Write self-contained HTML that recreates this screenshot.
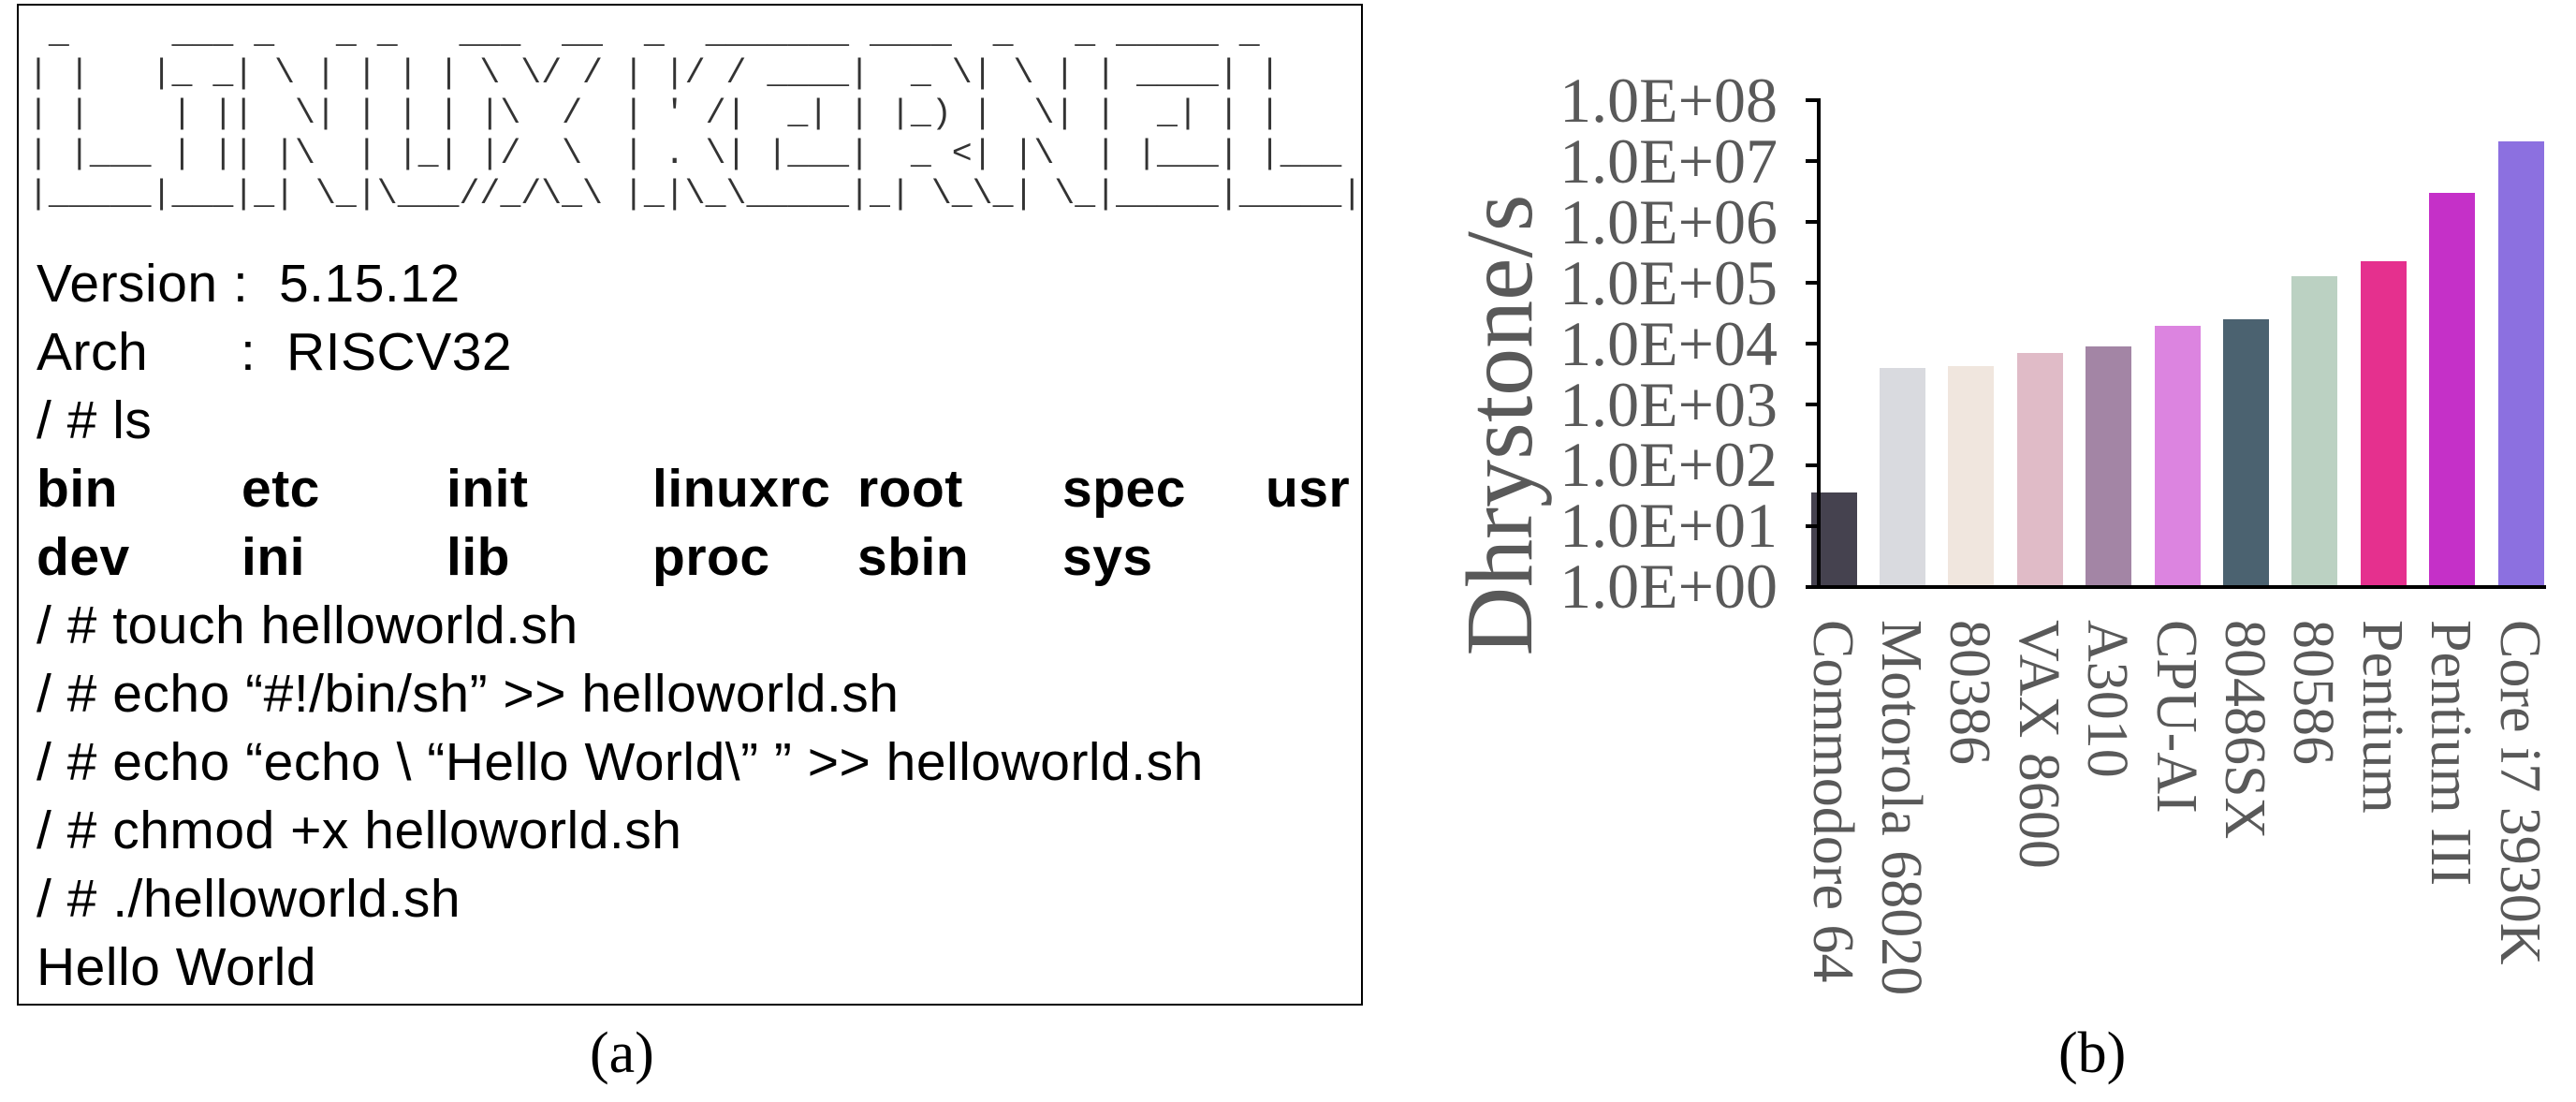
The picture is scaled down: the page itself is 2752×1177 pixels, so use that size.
<!DOCTYPE html>
<html><head><meta charset="utf-8"><style>
html,body{margin:0;padding:0;background:#fff;}
body{width:2752px;height:1177px;position:relative;overflow:hidden;}
.box{position:absolute;left:18px;top:4px;width:1434px;height:1066px;border:2px solid #000;}
pre.art{position:absolute;left:30px;top:14px;margin:0;font-family:"Liberation Mono",monospace;font-size:36px;line-height:43px;color:#333;transform-origin:0 0;transform:scale(1.015,1.0);}
.t{position:absolute;left:39px;font-family:"Liberation Sans",sans-serif;font-size:57px;color:#000;white-space:pre;line-height:1;letter-spacing:0.5px;}
.b{font-weight:bold;width:1420px;height:60px;}
.b span{position:absolute;top:0;}
.cap{position:absolute;font-family:"Liberation Serif",serif;font-size:62px;color:#000;}
</style></head><body>
<div class="box"></div>
<pre class="art"> _     ___ _   _ _   ___  __  _  _______ ____  _   _ _____ _     
| |   |_ _| \ | | | | \ \/ / | |/ / ____|  _ \| \ | | ____| |    
| |    | ||  \| | | | |\  /  | ' /|  _| | |_) |  \| |  _| | |    
| |___ | || |\  | |_| |/  \  | . \| |___|  _ &lt;| |\  | |___| |___ 
|_____|___|_| \_|\___//_/\_\ |_|\_\_____|_| \_\_| \_|_____|_____|</pre>

<div class="t" style="top:275px">Version :  5.15.12</div>
<div class="t" style="top:348px">Arch<span style="position:absolute;left:218px">:  RISCV32</span></div>
<div class="t" style="top:421px">/ # ls</div>
<div class="t b" style="top:494px"><span style="left:0">bin</span><span style="left:219px">etc</span><span style="left:438px">init</span><span style="left:658px">linuxrc</span><span style="left:877px">root</span><span style="left:1096px">spec</span><span style="left:1313px">usr</span></div>
<div class="t b" style="top:567px"><span style="left:0">dev</span><span style="left:219px">ini</span><span style="left:438px">lib</span><span style="left:658px">proc</span><span style="left:877px">sbin</span><span style="left:1096px">sys</span></div>
<div class="t" style="top:640px">/ # touch helloworld.sh</div>
<div class="t" style="top:713px">/ # echo “#!/bin/sh” &gt;&gt; helloworld.sh</div>
<div class="t" style="top:786px">/ # echo “echo \ “Hello World\” ” &gt;&gt; helloworld.sh</div>
<div class="t" style="top:859px">/ # chmod +x helloworld.sh</div>
<div class="t" style="top:932px">/ # ./helloworld.sh</div>
<div class="t" style="top:1005px">Hello World</div>

<div class="cap" style="left:630px;top:1090px">(a)</div>
<div class="cap" style="left:2199px;top:1090px">(b)</div>

<svg width="2752" height="1177" style="position:absolute;left:0;top:0" xmlns="http://www.w3.org/2000/svg">
<g font-family="Liberation Serif, serif" font-size="68" fill="#595959" text-anchor="end">
<text x="1899" y="130">1.0E+08</text>
<text x="1899" y="195">1.0E+07</text>
<text x="1899" y="260">1.0E+06</text>
<text x="1899" y="325">1.0E+05</text>
<text x="1899" y="390">1.0E+04</text>
<text x="1899" y="455">1.0E+03</text>
<text x="1899" y="519">1.0E+02</text>
<text x="1899" y="584">1.0E+01</text>
<text x="1899" y="649">1.0E+00</text>
</g>
<text x="0" y="0" transform="translate(1636,454) rotate(-90)" font-family="Liberation Serif, serif" font-size="102" fill="#595959" text-anchor="middle">Dhrystone/s</text>
<g>
<rect x="1935" y="526" width="49" height="100" fill="#45424f"/>
<rect x="2008" y="393" width="49" height="233" fill="#d9dadf"/>
<rect x="2081" y="391" width="49" height="235" fill="#f0e6de"/>
<rect x="2155" y="377" width="49" height="249" fill="#e0bbc7"/>
<rect x="2228" y="370" width="49" height="256" fill="#a385a5"/>
<rect x="2302" y="348" width="49" height="278" fill="#dc84e0"/>
<rect x="2375" y="341" width="49" height="285" fill="#4b6270"/>
<rect x="2448" y="295" width="49" height="331" fill="#bbd1c2"/>
<rect x="2522" y="279" width="49" height="347" fill="#e5308e"/>
<rect x="2595" y="206" width="49" height="420" fill="#c530c8"/>
<rect x="2669" y="151" width="49" height="475" fill="#8c70e0"/>
</g>
<g stroke="#000" stroke-width="4">
<line x1="1943" y1="105" x2="1943" y2="628"/>
<line x1="1929" y1="627" x2="2720" y2="627"/>
<line x1="1929" y1="107" x2="1943" y2="107"/>
<line x1="1929" y1="172" x2="1943" y2="172"/>
<line x1="1929" y1="237" x2="1943" y2="237"/>
<line x1="1929" y1="302" x2="1943" y2="302"/>
<line x1="1929" y1="367" x2="1943" y2="367"/>
<line x1="1929" y1="432" x2="1943" y2="432"/>
<line x1="1929" y1="497" x2="1943" y2="497"/>
<line x1="1929" y1="562" x2="1943" y2="562"/>
</g>
<g font-family="Liberation Serif, serif" font-size="62" fill="#595959">
<text transform="translate(1938,662) rotate(90)">Commodore 64</text>
<text transform="translate(2011,662) rotate(90)">Motorola 68020</text>
<text transform="translate(2084,662) rotate(90)">80386</text>
<text transform="translate(2158,662) rotate(90)">VAX 8600</text>
<text transform="translate(2231,662) rotate(90)">A3010</text>
<text transform="translate(2305,662) rotate(90)">CPU-AI</text>
<text transform="translate(2378,662) rotate(90)">80486SX</text>
<text transform="translate(2451,662) rotate(90)">80586</text>
<text transform="translate(2525,662) rotate(90)">Pentium</text>
<text transform="translate(2598,662) rotate(90)">Pentium III</text>
<text transform="translate(2672,662) rotate(90)">Core i7 3930K</text>
</g>
</svg>
</body></html>
